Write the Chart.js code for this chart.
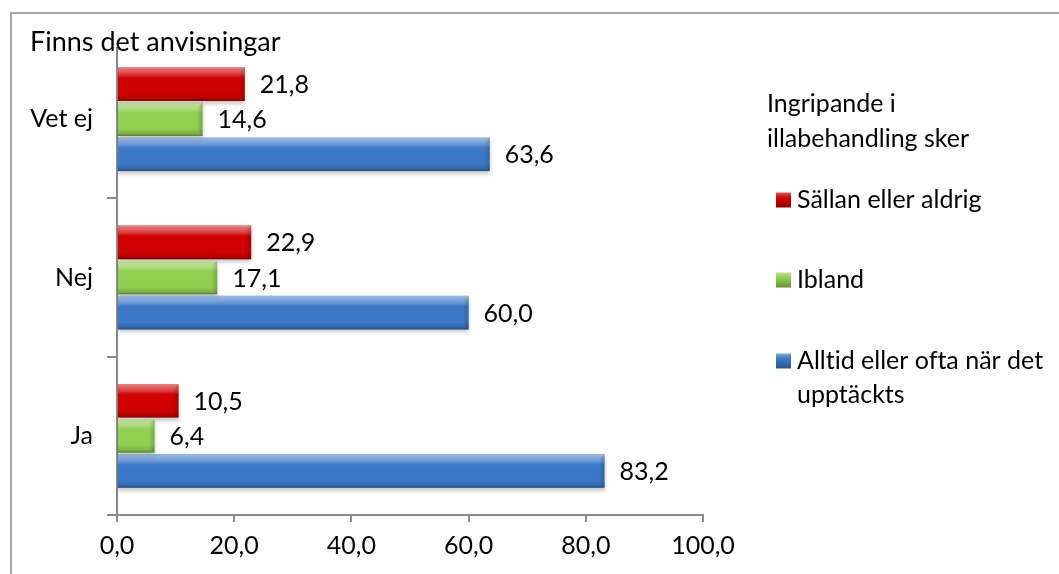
<!DOCTYPE html>
<html>
<head>
<meta charset="utf-8">
<script src="https://cdn.jsdelivr.net/npm/chart.js@4/dist/chart.umd.min.js"></script>
<style>
  html, body { margin: 0; padding: 0; background: #fff; }
  #wrap { position: relative; width: 1059px; height: 574px; }
</style>
</head>
<body>
<div id="wrap"><canvas id="myChart" width="1059" height="574"></canvas></div>
<script>
const kategorier = ['Vet ej', 'Nej', 'Ja'];
const serieNamn = ['Sällan eller aldrig', 'Ibland', 'Alltid eller ofta när det upptäckts'];
const sallan = [21.8, 22.9, 10.5];
const ibland = [14.6, 17.1, 6.4];
const alltid = [63.6, 60.0, 83.2];
const xSteg = [0, 20, 40, 60, 80, 100];

const rubrik = 'Finns det anvisningar';
const legendRubrik = ['Ingripande i', 'illabehandling sker'];
const farger = ['#d10000', '#91cf50', '#3b79c8'];

const FONT = 'Lato';
const STORLEK = 25;
const GRA = '#8a8a8a';

const fmt = v => v.toFixed(1).replace('.', ',');

function hex2rgb(h) {
    const n = parseInt(h.slice(1), 16);
    return [(n >> 16) & 255, (n >> 8) & 255, n & 255];
}
function lighten(h, a) {
    const c = hex2rgb(h).map(v => Math.round(v + (255 - v) * a));
    return `rgb(${c[0]},${c[1]},${c[2]})`;
}
function darken(h, a) {
    const c = hex2rgb(h).map(v => Math.round(v * (1 - a)));
    return `rgb(${c[0]},${c[1]},${c[2]})`;
}

// ramen, rubriken och förklaringen ritas för hand
const ram = {
    id: 'ram',
    beforeDraw(chart) {
        const ctx = chart.ctx;
        ctx.save();
        ctx.strokeStyle = '#a6a6a6';
        ctx.lineWidth = 2;
        ctx.beginPath();
        ctx.moveTo(11, chart.height);
        ctx.lineTo(11, 13);
        ctx.lineTo(chart.width, 13);
        ctx.stroke();
        ctx.restore();
    },
    afterDraw(chart) {
        const ctx = chart.ctx;
        const area = chart.chartArea;
        ctx.save();
        ctx.textRendering = 'optimizeSpeed';

        // rubrikens ruta täcker axelns översta del
        ctx.fillStyle = '#fff';
        ctx.fillRect(24, 15, 262, 32);
        ctx.fillStyle = '#000';
        ctx.textBaseline = 'alphabetic';
        ctx.textAlign = 'left';
        ctx.font = '27px ' + FONT;
        ctx.fillText(rubrik, 30, 51);

        const lx = area.right + 64;
        ctx.font = STORLEK + 'px ' + FONT;
        ctx.fillText(legendRubrik[0], lx, 112);
        ctx.fillText(legendRubrik[1], lx, 147);

        const rader = [[serieNamn[0]], [serieNamn[1]], ['Alltid eller ofta när det', 'upptäckts']];
        const yPos = [200, 280, 361];
        rader.forEach((rad, i) => {
            const y = yPos[i];
            const mx = lx + 9, ms = 15;
            const g = ctx.createLinearGradient(0, y - ms / 2, 0, y + ms / 2);
            g.addColorStop(0, lighten(farger[i], 0.35));
            g.addColorStop(0.35, farger[i]);
            g.addColorStop(1, darken(farger[i], 0.3));
            ctx.fillStyle = g;
            ctx.fillRect(mx, y - ms / 2, ms, ms);
            ctx.fillStyle = '#000';
            ctx.textBaseline = 'middle';
            rad.forEach((t, j) => ctx.fillText(t, lx + 30, y + j * 34));
        });
        ctx.restore();
    }
};

// skugga under staplarna, fasning och värdeetiketter
const fasning = {
    id: 'fasning',
    beforeDatasetsDraw(chart) {
        const ctx = chart.ctx;
        ctx.save();
        ctx.shadowColor = 'rgba(0,0,0,0.22)';
        ctx.shadowBlur = 4;
        ctx.shadowOffsetY = 3;
    },
    afterDatasetsDraw(chart) {
        const ctx = chart.ctx;
        ctx.restore();
        ctx.save();
        chart.data.datasets.forEach((ds, i) => {
            chart.getDatasetMeta(i).data.forEach((bar, k) => {
                const p = bar.getProps(['x', 'y', 'base', 'height'], true);
                const top = p.y - p.height / 2, bot = p.y + p.height / 2;
                const left = Math.min(p.base, p.x), right = Math.max(p.base, p.x);
                const e = Math.min(6, (right - left) / 2, p.height / 3);

                const g = ctx.createLinearGradient(0, top, 0, bot);
                g.addColorStop(0, 'rgba(255,255,255,0.5)');
                g.addColorStop(0.2, 'rgba(255,255,255,0.25)');
                g.addColorStop(0.32, 'rgba(255,255,255,0)');
                g.addColorStop(0.78, 'rgba(0,0,0,0)');
                g.addColorStop(0.93, 'rgba(0,0,0,0.15)');
                g.addColorStop(1, 'rgba(0,0,0,0.4)');
                ctx.fillStyle = g;
                ctx.fillRect(left, top, right - left, bot - top);

                // högra änden, svag fasning
                const h = ctx.createLinearGradient(right - e, 0, right, 0);
                h.addColorStop(0, 'rgba(0,0,0,0)');
                h.addColorStop(1, 'rgba(0,0,0,0.18)');
                ctx.fillStyle = h;
                ctx.beginPath();
                ctx.moveTo(right, top);
                ctx.lineTo(right - e, top + e);
                ctx.lineTo(right - e, bot - e);
                ctx.lineTo(right, bot);
                ctx.closePath();
                ctx.fill();

                ctx.fillStyle = '#000';
                ctx.font = STORLEK + 'px ' + FONT;
                ctx.textBaseline = 'middle';
                ctx.textAlign = 'left';
                ctx.fillText(fmt(ds.data[k]), right + 15, p.y + 1);
            });
        });
        ctx.restore();
    }
};

const ctx = document.getElementById('myChart').getContext('2d');

new Chart(ctx, {
    type: 'bar',
    data: {
        labels: kategorier,
        datasets: [sallan, ibland, alltid].map((d, i) => ({
            label: serieNamn[i],
            data: d,
            backgroundColor: farger[i],
            borderWidth: 0,
            categoryPercentage: 0.665,
            barPercentage: 0.96
        }))
    },
    options: {
        indexAxis: 'y',
        responsive: false,
        animation: false,
        layout: { padding: { left: 0, top: 40, right: 356, bottom: 0 } },
        plugins: {
            legend: { display: false },
            tooltip: { enabled: false }
        },
        scales: {
            x: {
                min: 0,
                max: 100,
                afterFit: s => { s.height = 59; },
                afterBuildTicks: s => { s.ticks = xSteg.map(v => ({ value: v })); },
                ticks: {
                    callback: v => fmt(v),
                    color: '#000',
                    font: { family: FONT, size: STORLEK },
                    padding: 9,
                    maxRotation: 0
                },
                grid: { drawOnChartArea: false, tickLength: 7, color: GRA, lineWidth: 2 },
                border: { color: GRA, width: 2 }
            },
            y: {
                afterFit: s => { s.width = 117; },
                ticks: {
                    color: '#000',
                    font: { family: FONT, size: STORLEK },
                    padding: 14
                },
                grid: {
                    offset: true,
                    drawOnChartArea: false,
                    tickLength: 10,
                    lineWidth: 2,
                    color: c => c.index === 0 ? 'rgba(0,0,0,0)' : GRA
                },
                border: { color: GRA, width: 2 }
            }
        }
    },
    plugins: [ram, fasning]
});
</script>
</body>
</html>
